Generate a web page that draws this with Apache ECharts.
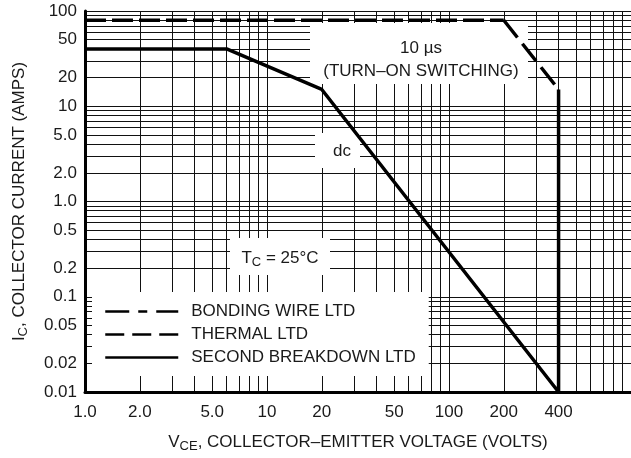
<!DOCTYPE html>
<html>
<head>
<meta charset="utf-8">
<script src="https://cdn.jsdelivr.net/npm/echarts@6/dist/echarts.min.js"></script>
<style>
    html, body { margin: 0; padding: 0; background: #fff; }
    #chart { width: 631px; height: 458px; }
</style>
</head>
<body>
<div id="chart"></div>
<script>
// axis labels
const xLabels = [1, 2, 5, 10, 20, 50, 100, 200, 400];
const yLabels = [0.01, 0.02, 0.05, 0.1, 0.2, 0.5, 1, 2, 5, 10, 20, 50, 100];

// log grid lines
const xGridValues = [
    1, 2, 3, 4, 5, 6, 7, 8, 9,
    10, 20, 30, 40, 50, 60, 70, 80, 90,
    100, 200, 300, 400, 500, 600, 700, 800, 900, 1000
];
const yGridValues = [
    0.01, 0.02, 0.03, 0.04, 0.05, 0.06, 0.07, 0.08, 0.09,
    0.1, 0.2, 0.3, 0.4, 0.5, 0.6, 0.7, 0.8, 0.9,
    1, 2, 3, 4, 5, 6, 7, 8, 9,
    10, 20, 30, 40, 50, 60, 70, 80, 90, 100
];

// SOA limits [VCE, IC]
const bondingWire = [[1, 80], [200, 80]];
const thermal = [[200, 80], [400, 15]];
const secondBreakdown = [[1, 40], [6, 40], [20, 15], [400, 0.01], [400, 15]];

const FONT = "'Liberation Sans', Arial, sans-serif";
const INK = "#1a1a1a";

function tickText(v) {
    if (v === 1) return "1.0";
    if (v === 2) return "2.0";
    if (v === 5) return "5.0";
    return String(v);
}

const chart = echarts.init(document.getElementById("chart"));

const options = {
    animation: false,
    backgroundColor: "#fff",
    grid: {
        left: 85,
        top: 11,
        width: 550,
        height: 383,
    },
    xAxis: {
        type: "log",
        logBase: 10,
        min: 1,
        max: 1000,
        name: "{n|V}{s|CE}{n|, COLLECTOR\u2013EMITTER VOLTAGE (VOLTS)}",
        nameLocation: "middle",
        nameGap: 39,
        nameTextStyle: {
            rich: {
                n: { fontSize: 17, fontFamily: FONT, color: INK },
                s: { fontSize: 13, fontFamily: FONT, color: INK, padding: [9, 0, 0, 0] },
            },
        },
        axisLine: { show: true, lineStyle: { color: "#000", width: 3 } },
        axisTick: { show: false, customValues: xGridValues },
        axisLabel: {
            customValues: xLabels,
            formatter: tickText,
            color: INK,
            fontSize: 17,
            fontFamily: FONT,
            margin: 12,
        },
        splitLine: { show: true, lineStyle: { color: "#111", width: 1 } },
    },
    yAxis: {
        type: "log",
        logBase: 10,
        min: 0.01,
        max: 100,
        name: "{n|I}{s|C}{n|, COLLECTOR CURRENT (AMPS)}",
        nameLocation: "middle",
        nameGap: 55,
        nameTextStyle: {
            rich: {
                n: { fontSize: 17, fontFamily: FONT, color: INK },
                s: { fontSize: 13, fontFamily: FONT, color: INK, padding: [9, 0, 0, 0] },
            },
        },
        axisLine: { show: true, lineStyle: { color: "#000", width: 3 } },
        axisTick: { show: false, customValues: yGridValues },
        axisLabel: {
            customValues: yLabels,
            formatter: tickText,
            color: INK,
            fontSize: 17,
            fontFamily: FONT,
            margin: 8,
        },
        splitLine: { show: true, lineStyle: { color: "#111", width: 1 } },
    },
    legend: {
        orient: "vertical",
        left: 92,
        top: 292,
        padding: [11, 13, 10, 12],
        backgroundColor: "#fff",
        itemWidth: 73,
        itemHeight: 14,
        itemGap: 6,
        selectedMode: false,
        itemStyle: { opacity: 0 },
        textStyle: {
            color: INK,
            fontSize: 17,
            fontFamily: FONT,
            lineHeight: 17,
            padding: [0, 0, 0, 8],
        },
        data: [
            { name: "BONDING WIRE LTD", lineStyle: { type: [24, 9, 9, 9], width: 2.5, color: "#000" } },
            { name: "THERMAL LTD", lineStyle: { type: [19, 8], width: 2.5, color: "#000" } },
            { name: "SECOND BREAKDOWN LTD", lineStyle: { type: "solid", width: 2.5, color: "#000" } },
        ],
    },
    graphic: [
        // label boxes that mask the grid
        { type: "rect", z: 1, shape: { x: 310, y: 23, width: 218, height: 61 }, style: { fill: "#fff" } },
        {
            type: "text", z: 1, x: 421, y: 60,
            style: {
                text: "10 \u00b5s\n(TURN\u2013ON SWITCHING)",
                fontSize: 17, fontFamily: FONT, fill: INK,
                align: "center", verticalAlign: "middle", lineHeight: 23,
            },
        },
        { type: "rect", z: 1, shape: { x: 315, y: 133, width: 45, height: 35 }, style: { fill: "#fff" } },
        {
            type: "text", z: 1, x: 342, y: 151,
            style: { text: "dc", fontSize: 17, fontFamily: FONT, fill: INK, align: "center", verticalAlign: "middle" },
        },
        { type: "rect", z: 1, shape: { x: 230, y: 238, width: 100, height: 37 }, style: { fill: "#fff" } },
        {
            type: "text", z: 1, x: 280, y: 258,
            style: {
                text: "{n|T}{s|C}{n| = 25\u00b0C}",
                align: "center", verticalAlign: "middle",
                rich: {
                    n: { fontSize: 17, fontFamily: FONT, fill: INK, color: INK },
                    s: { fontSize: 13, fontFamily: FONT, fill: INK, color: INK, padding: [9, 0, 0, 0] },
                },
            },
        },
    ],
    series: [
        {
            name: "BONDING WIRE LTD",
            type: "line",
            z: 3,
            symbol: "none",
            lineStyle: { color: "#000", width: 3.5, type: [21, 6] },
            data: bondingWire,
        },
        {
            name: "THERMAL LTD",
            type: "line",
            z: 3,
            symbol: "none",
            lineStyle: { color: "#000", width: 3.5, type: [22, 8] },
            data: thermal,
        },
        {
            name: "SECOND BREAKDOWN LTD",
            type: "line",
            z: 3,
            symbol: "none",
            lineStyle: { color: "#000", width: 3.5, type: "solid" },
            data: secondBreakdown,
        },
    ],
};
chart.setOption(options);
</script>
</body>
</html>
